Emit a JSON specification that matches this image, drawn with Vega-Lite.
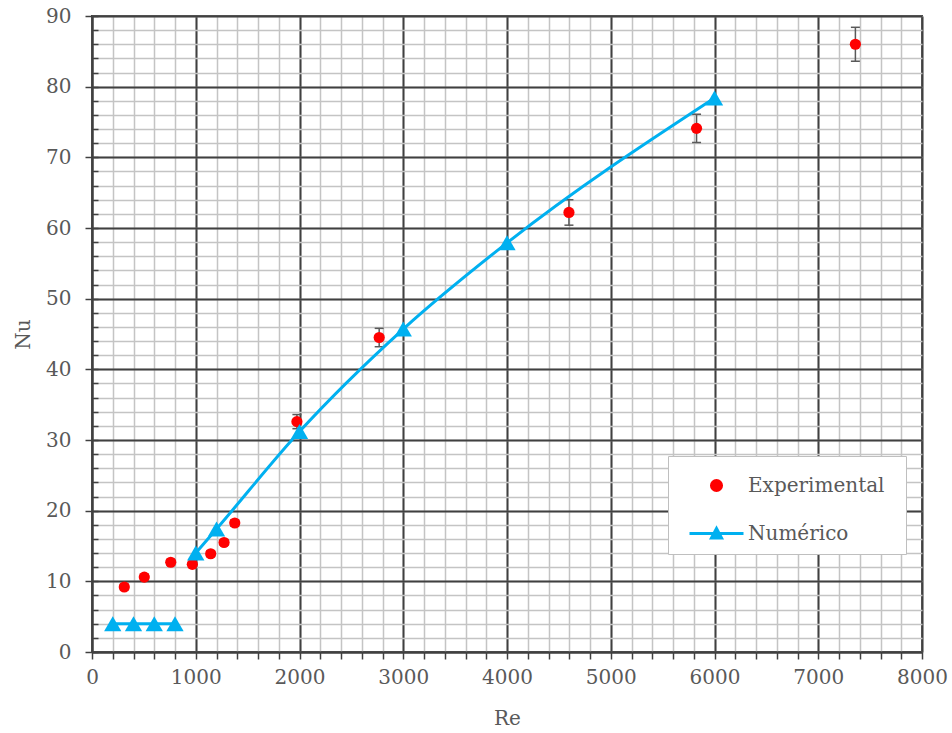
{
  "$schema": "https://vega.github.io/schema/vega-lite/v6.json",
  "autosize": {"type": "none"},
  "padding": {"left": 92, "top": 16, "right": 30, "bottom": 81},
  "width": 830,
  "height": 636,
  "background": "white",
  "config": {
    "view": {"stroke": "#404040", "strokeWidth": 2},
    "font": "DejaVu Serif",
    "axis": {"labelFont": "DejaVu Serif", "titleFont": "DejaVu Serif", "labelColor": "#595959", "titleColor": "#595959", "titleFontWeight": "normal", "labelFlush": false}
  },
  "datasets": {
    "exp": [
      {"Re": 311, "Nu": 9.2, "lo": 8.8, "hi": 9.6},
      {"Re": 504, "Nu": 10.6, "lo": 10.2, "hi": 11.0},
      {"Re": 759, "Nu": 12.7, "lo": 12.3, "hi": 13.1},
      {"Re": 967, "Nu": 12.4, "lo": 12.0, "hi": 12.8},
      {"Re": 1144, "Nu": 13.9, "lo": 13.5, "hi": 14.3},
      {"Re": 1273, "Nu": 15.5, "lo": 15.1, "hi": 15.9},
      {"Re": 1376, "Nu": 18.25, "lo": 17.8, "hi": 18.7},
      {"Re": 1975, "Nu": 32.6, "lo": 31.6, "hi": 33.6},
      {"Re": 2768, "Nu": 44.5, "lo": 43.2, "hi": 45.8},
      {"Re": 4597, "Nu": 62.2, "lo": 60.4, "hi": 64.0},
      {"Re": 5827, "Nu": 74.1, "lo": 72.1, "hi": 76.1},
      {"Re": 7358, "Nu": 86.0, "lo": 83.6, "hi": 88.4}
    ],
    "num": [
      {"Re": 200, "Nu": 4.0, "seg": "a"},
      {"Re": 400, "Nu": 4.0, "seg": "a"},
      {"Re": 600, "Nu": 4.0, "seg": "a"},
      {"Re": 800, "Nu": 4.0, "seg": "a"},
      {"Re": 1000, "Nu": 14.0, "seg": "b"},
      {"Re": 1200, "Nu": 17.4, "seg": "b"},
      {"Re": 2000, "Nu": 31.2, "seg": "b"},
      {"Re": 3000, "Nu": 45.7, "seg": "b"},
      {"Re": 4000, "Nu": 57.9, "seg": "b"},
      {"Re": 6000, "Nu": 78.4, "seg": "b"}
    ],
    "series": [
      {"serie": "Experimental"},
      {"serie": "Numérico"}
    ]
  },
  "layer": [
    {
      "data": {"name": "exp"},
      "mark": {"type": "rule", "color": "#595959", "strokeWidth": 1.5},
      "encoding": {
        "x": {"field": "Re", "type": "quantitative", "scale": {"domain": [0, 8000], "nice": false},
          "axis": {"values": [0,200,400,600,800,1000,1200,1400,1600,1800,2000,2200,2400,2600,2800,3000,3200,3400,3600,3800,4000,4200,4400,4600,4800,5000,5200,5400,5600,5800,6000,6200,6400,6600,6800,7000,7200,7400,7600,7800,8000],
            "orient": "bottom", "grid": true, "gridColor": "#C4C4C4", "gridWidth": 1.5, "labels": false, "ticks": true, "tickSize": 7, "tickColor": "#404040", "tickWidth": 1.5, "domain": true, "domainColor": "#404040", "domainWidth": 2, "title": null}},
        "y": {"field": "lo", "type": "quantitative", "scale": {"domain": [0, 90], "nice": false},
          "axis": {"values": [0,2,4,6,8,10,12,14,16,18,20,22,24,26,28,30,32,34,36,38,40,42,44,46,48,50,52,54,56,58,60,62,64,66,68,70,72,74,76,78,80,82,84,86,88,90],
            "orient": "left", "grid": true, "gridColor": "#C4C4C4", "gridWidth": 1.5, "labels": false, "ticks": true, "tickSize": -6, "tickColor": "#404040", "tickWidth": 1.5, "domain": true, "domainColor": "#404040", "domainWidth": 2, "title": null}},
        "y2": {"field": "hi"}
      }
    },
    {
      "data": {"name": "exp"},
      "mark": {"type": "tick", "orient": "horizontal", "color": "#595959", "size": 9, "thickness": 1.5, "opacity": 1},
      "encoding": {
        "x": {"field": "Re", "type": "quantitative", "axis": null},
        "y": {"field": "lo", "type": "quantitative", "axis": null}
      }
    },
    {
      "data": {"name": "exp"},
      "mark": {"type": "tick", "orient": "horizontal", "color": "#595959", "size": 9, "thickness": 1.5, "opacity": 1},
      "encoding": {
        "x": {"field": "Re", "type": "quantitative", "axis": null},
        "y": {"field": "hi", "type": "quantitative", "axis": null}
      }
    },
    {
      "data": {"name": "exp"},
      "mark": {"type": "point", "shape": "circle", "filled": true, "color": "#FF0000", "size": 125, "opacity": 1},
      "encoding": {
        "x": {"field": "Re", "type": "quantitative", "axis": null},
        "y": {"field": "Nu", "type": "quantitative", "axis": null}
      }
    },
    {
      "data": {"name": "num"},
      "mark": {"type": "line", "color": "#00B0F0", "strokeWidth": 3, "interpolate": "monotone"},
      "encoding": {
        "x": {"field": "Re", "type": "quantitative",
          "axis": {"values": [0,1000,2000,3000,4000,5000,6000,7000,8000], "format": "d", "orient": "bottom", "grid": true, "gridColor": "#404040", "gridWidth": 2, "ticks": false, "domain": false,
            "labelFontSize": 20, "labelPadding": 15, "title": "Re", "titleFontSize": 20, "titlePadding": 21}},
        "y": {"field": "Nu", "type": "quantitative",
          "axis": {"values": [0,10,20,30,40,50,60,70,80,90], "format": "d", "orient": "left", "grid": true, "gridColor": "#404040", "gridWidth": 2, "ticks": true, "tickSize": 7, "tickColor": "#404040", "tickWidth": 1.5, "domain": false,
            "labelFontSize": 20, "labelPadding": 14, "title": "Nu", "titleFontSize": 20, "titlePadding": 12}},
        "detail": {"field": "seg"}
      }
    },
    {
      "data": {"name": "num"},
      "mark": {"type": "point", "shape": "triangle-up", "filled": true, "color": "#00B0F0", "size": 300, "opacity": 1},
      "encoding": {
        "x": {"field": "Re", "type": "quantitative", "axis": null},
        "y": {"field": "Nu", "type": "quantitative", "axis": null}
      }
    },
    {
      "data": {"name": "series"},
      "transform": [{"filter": "false"}],
      "mark": {"type": "point", "filled": true, "opacity": 1},
      "encoding": {
        "color": {"field": "serie", "type": "nominal",
          "scale": {"domain": ["Experimental", "Numérico"], "range": ["#FF0000", "#00B0F0"]},
          "legend": {"orient": "none", "legendX": 576, "legendY": 440, "title": null, "padding": 10, "rowPadding": 17,
            "strokeColor": "#BFBFBF", "fillColor": "white", "symbolOffset": 19, "labelOffset": 12,
            "labelFont": "DejaVu Serif", "labelFontSize": 20, "labelColor": "#595959",
            "symbolSize": 1296, "symbolStrokeWidth": 3, "symbolOpacity": 1,
            "encode": {"symbols": {"update": {"fill": {"scale": "color", "field": "value"}, "stroke": {"scale": "color", "field": "value"}, "strokeWidth": {"value": 3}}}}}},
        "shape": {"field": "serie", "type": "nominal",
          "scale": {"domain": ["Experimental", "Numérico"], "range": ["M0.28,0A0.28,0.28,0,1,1,-0.28,0A0.28,0.28,0,1,1,0.28,0ZM9.6,0", "M-1.5,0L1.5,0M0,-0.28L0.28,0.25L-0.28,0.25ZM9.6,0"]},
          "legend": {"orient": "none", "legendX": 576, "legendY": 440, "title": null}}
      }
    }
  ],
  "resolve": {"axis": {"x": "independent", "y": "independent"}}
}
